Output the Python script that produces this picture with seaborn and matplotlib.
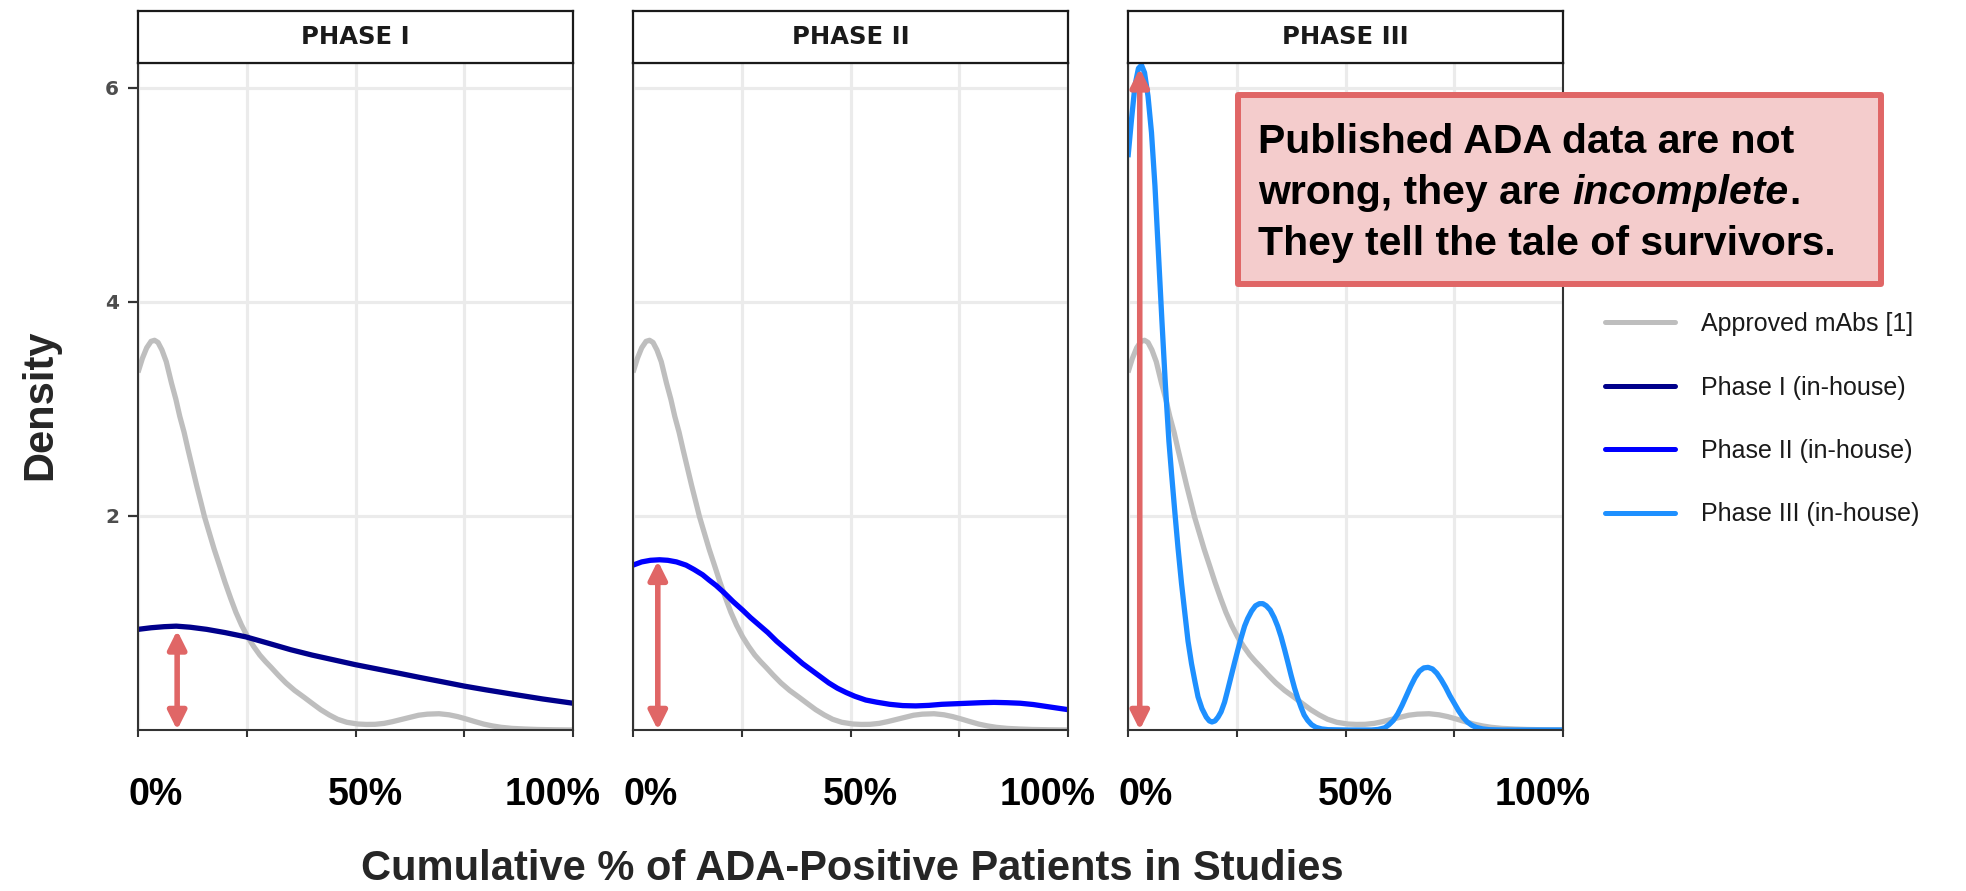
import numpy as np
import pandas as pd
import matplotlib
matplotlib.use("Agg")
import matplotlib.pyplot as plt
import seaborn as sns
from matplotlib.lines import Line2D
from matplotlib.patches import Rectangle, FancyArrowPatch
from matplotlib.transforms import ScaledTranslation

# ---------------- data ----------------
approved_x = [0.000, 0.010, 0.020, 0.030, 0.038, 0.046, 0.055, 0.065, 0.077, 0.087, 0.096,
              0.106, 0.115, 0.125, 0.135, 0.145, 0.153, 0.164, 0.175, 0.188, 0.200, 0.213,
              0.225, 0.238, 0.252, 0.266, 0.280, 0.293, 0.306, 0.323, 0.340, 0.360, 0.382,
              0.400, 0.420, 0.440, 0.459, 0.480, 0.505, 0.525, 0.545, 0.566, 0.585, 0.605,
              0.627, 0.645, 0.665, 0.692, 0.715, 0.735, 0.757, 0.775, 0.795, 0.815, 0.835,
              0.860, 0.890, 0.917, 0.960, 1.000]
approved_y = [3.34, 3.47, 3.57, 3.63, 3.64, 3.62, 3.55, 3.44, 3.24, 3.09, 2.93,
              2.78, 2.62, 2.45, 2.28, 2.12, 1.99, 1.84, 1.69, 1.53, 1.38, 1.23,
              1.10, 0.98, 0.87, 0.78, 0.70, 0.64, 0.585, 0.51, 0.44, 0.37, 0.305,
              0.25, 0.19, 0.14, 0.10, 0.072, 0.056, 0.052, 0.053, 0.062, 0.078, 0.098,
              0.12, 0.138, 0.148, 0.152, 0.142, 0.125, 0.10, 0.078, 0.055, 0.038, 0.025,
              0.015, 0.009, 0.005, 0.002, 0.0]

phase1_x = [0.0, 0.03, 0.06, 0.088, 0.12, 0.158, 0.2, 0.248, 0.3, 0.351, 0.4, 0.45, 0.5,
            0.55, 0.6, 0.649, 0.7, 0.75, 0.8, 0.868, 0.93, 1.0]
phase1_y = [0.94, 0.955, 0.965, 0.97, 0.96, 0.94, 0.91, 0.87, 0.81, 0.75, 0.70, 0.655, 0.61,
            0.57, 0.53, 0.49, 0.45, 0.41, 0.375, 0.33, 0.29, 0.25]

phase2_x = [0.0, 0.02, 0.04, 0.061, 0.08, 0.1, 0.122, 0.14, 0.16, 0.175, 0.191, 0.21, 0.23,
            0.252, 0.27, 0.29, 0.31, 0.33, 0.35, 0.37, 0.39, 0.41, 0.43, 0.45, 0.47, 0.49,
            0.51, 0.535, 0.56, 0.59, 0.62, 0.65, 0.68, 0.71, 0.74, 0.77, 0.80, 0.83, 0.86,
            0.89, 0.92, 0.95, 0.975, 1.0]
phase2_y = [1.54, 1.57, 1.585, 1.59, 1.585, 1.57, 1.54, 1.50, 1.45, 1.40, 1.35, 1.28, 1.20,
            1.12, 1.05, 0.98, 0.91, 0.83, 0.76, 0.69, 0.62, 0.56, 0.50, 0.44, 0.39, 0.35,
            0.315, 0.28, 0.26, 0.24, 0.228, 0.225, 0.23, 0.24, 0.245, 0.25, 0.255, 0.258, 0.255,
            0.25, 0.238, 0.22, 0.205, 0.19]

phase3_x = [0.000, 0.008, 0.016, 0.024, 0.031, 0.038, 0.046, 0.054, 0.062, 0.070, 0.078,
            0.086, 0.094, 0.100, 0.108, 0.115, 0.123, 0.131, 0.138, 0.146, 0.154, 0.161,
            0.170, 0.180, 0.187, 0.193, 0.200, 0.207, 0.214, 0.222, 0.229, 0.237, 0.245,
            0.252, 0.260, 0.268, 0.275, 0.284, 0.293, 0.302, 0.310, 0.318, 0.327, 0.336,
            0.344, 0.352, 0.360, 0.367, 0.375, 0.383, 0.390, 0.398, 0.405, 0.413, 0.422,
            0.432, 0.445, 0.460, 0.500, 0.560, 0.575, 0.590, 0.600, 0.610, 0.620, 0.630,
            0.640, 0.650, 0.660, 0.670, 0.680, 0.690, 0.700, 0.710, 0.720, 0.730, 0.740,
            0.750, 0.760, 0.770, 0.780, 0.790, 0.800, 0.815, 0.830, 0.860, 1.000]
phase3_y = [5.35, 5.70, 6.02, 6.18, 6.21, 6.14, 5.92, 5.58, 5.08, 4.45, 3.82,
            3.22, 2.70, 2.40, 2.02, 1.70, 1.37, 1.08, 0.83, 0.62, 0.45, 0.31,
            0.20, 0.12, 0.085, 0.075, 0.085, 0.12, 0.17, 0.26, 0.37, 0.50, 0.63,
            0.74, 0.86, 0.97, 1.04, 1.11, 1.16, 1.18, 1.18, 1.16, 1.12, 1.05,
            0.97, 0.87, 0.75, 0.64, 0.51, 0.39, 0.30, 0.21, 0.14, 0.09, 0.05,
            0.025, 0.01, 0.003, 0.0, 0.0, 0.005, 0.02, 0.05, 0.09, 0.15, 0.23,
            0.32, 0.41, 0.49, 0.55, 0.58, 0.585, 0.57, 0.53, 0.47, 0.40, 0.32,
            0.25, 0.18, 0.12, 0.075, 0.045, 0.025, 0.01, 0.003, 0.0, 0.0]

panel_titles = ["PHASE I", "PHASE II", "PHASE III"]
series_labels = ["Approved mAbs [1]", "Phase I (in-house)", "Phase II (in-house)", "Phase III (in-house)"]
series_colors = ["#BEBEBE", "#00008B", "#0000FF", "#1E90FF"]

arrow_x = [0.09, 0.057, 0.027]
arrow_top = [0.93, 1.58, 6.18]

x_ticks = [0.0, 0.25, 0.5, 0.75, 1.0]
x_tick_labels = ["0%", "", "50%", "", "100%"]
y_ticks = [2, 4, 6]
y_tick_labels = ["2", "4", "6"]

x_label = "Cumulative % of ADA-Positive Patients in Studies"
y_label = "Density"
note_line1 = "Published ADA data are not"
note_line2a = "wrong, they are"
note_line2b = "incomplete"
note_line2c = "."
note_line3 = "They tell the tale of survivors."

# ---------------- style ----------------
sns.set_theme(style="white")
plt.rcParams["font.family"] = ["Liberation Sans", "DejaVu Sans"]

W, H = 1966, 891
DPI = 100
fig = plt.figure(figsize=(W / DPI, H / DPI), dpi=DPI)
fig.patch.set_facecolor("white")


def fx(px):
    return px / W


def fy(py_top):
    return 1 - py_top / H


panel_left = [138, 633, 1128]
panel_w = 435
panel_top, panel_bot = 63, 730
strip_top = 11

inhouse = [(phase1_x, phase1_y), (phase2_x, phase2_y), (phase3_x, phase3_y)]
tick_offsets_px = [18, 0, 10, 0, -20]

for i in range(3):
    ax = fig.add_axes([fx(panel_left[i]), fy(panel_bot), fx(panel_w), (panel_bot - panel_top) / H])
    df = pd.concat([
        pd.DataFrame({"x": approved_x, "density": approved_y, "series": series_labels[0]}),
        pd.DataFrame({"x": inhouse[i][0], "density": inhouse[i][1], "series": series_labels[i + 1]}),
    ], ignore_index=True)
    pal = {series_labels[0]: series_colors[0], series_labels[i + 1]: series_colors[i + 1]}
    sns.lineplot(data=df, x="x", y="density", hue="series", palette=pal, ax=ax,
                 legend=False, linewidth=3.8, estimator=None, sort=True)
    for ln in ax.get_lines():
        ln.set_solid_joinstyle("round")
        ln.set_solid_capstyle("butt")
    ax.set_xlim(0, 1)
    ax.set_ylim(0, 6.23)
    ax.set_xlabel("")
    ax.set_ylabel("")
    ax.set_xticks(x_ticks)
    ax.set_xticklabels([])
    ax.tick_params(axis="x", direction="out", length=5, width=1.5, color="#333333", bottom=True)
    # x tick labels, nudged like in the reference
    for xt, lab, dx in zip(x_ticks, x_tick_labels, tick_offsets_px):
        if lab:
            tr = ax.get_xaxis_transform() + ScaledTranslation(dx / DPI, -47 / DPI, fig.dpi_scale_trans)
            ax.text(xt, 0, lab, transform=tr, ha="center", va="top", fontsize=27,
                    fontweight="bold", color="black", clip_on=False)
    ax.set_yticks(y_ticks)
    if i == 0:
        ax.set_yticklabels(y_tick_labels, fontsize=14.5, fontweight="bold", color="#4D4D4D",
                           family=["DejaVu Sans"])
        ax.tick_params(axis="y", direction="out", length=7.5, width=1.6, color="#333333", pad=6,
                       left=True)
    else:
        ax.set_yticklabels([])
        ax.tick_params(axis="y", length=0, left=False)
    ax.grid(True, color="#EBEBEB", linewidth=2.3)
    ax.set_axisbelow(True)
    for s in ax.spines.values():
        s.set_visible(True)
        s.set_color("#333333")
        s.set_linewidth(1.5)
    ax.set_facecolor("white")

    arr = FancyArrowPatch((arrow_x[i], 0), (arrow_x[i], arrow_top[i]),
                          arrowstyle="<|-|>,head_length=11,head_width=5.5",
                          mutation_scale=1, color="#E06666", linewidth=4.0,
                          shrinkA=0, shrinkB=0, zorder=10, clip_on=False)
    ax.add_patch(arr)

    # facet strip
    sax = fig.add_axes([fx(panel_left[i]), fy(panel_top), fx(panel_w), (panel_top - strip_top) / H])
    sax.set_xticks([])
    sax.set_yticks([])
    sax.set_facecolor("white")
    for s in sax.spines.values():
        s.set_visible(True)
        s.set_color("#1A1A1A")
        s.set_linewidth(1.6)
    sax.text(0.5, 0.5, panel_titles[i], ha="center", va="center", fontsize=17.5,
             fontweight="bold", color="#1A1A1A", transform=sax.transAxes,
             family=["DejaVu Sans"])

# axis titles
fig.text(fx(852), fy(880), x_label, ha="center", va="baseline", fontsize=30, fontweight="bold")
fig.text(fx(40), fy(405), y_label, ha="center", va="center", rotation=90, fontsize=30,
         fontweight="bold")

# legend
handles = [Line2D([0], [0], color=c, lw=3.6) for c in series_colors]
fig.legend(handles, series_labels, loc="upper left", bbox_to_anchor=(fx(1605), fy(312)),
           frameon=False, fontsize=18, handlelength=2.8, handletextpad=1.04, labelspacing=1.58,
           borderpad=0, borderaxespad=0, labelcolor="#1A1A1A")

# annotation box
box = Rectangle((fx(1238), fy(284)), fx(643), (284 - 95) / H, transform=fig.transFigure,
                facecolor="#F4CCCC", edgecolor="#E06666", linewidth=4.3, joinstyle="round",
                zorder=20)
fig.add_artist(box)
tk = dict(fontsize=29.5, fontweight="bold", color="black", va="baseline", ha="left", zorder=21)
fig.text(fx(1258), fy(153), note_line1, **tk)
t2a = fig.text(fx(1258), fy(204), note_line2a, **tk)
fig.text(fx(1258), fy(255), note_line3, **tk)
fig.canvas.draw()
r = fig.canvas.get_renderer()
x_end = t2a.get_window_extent(r).x1
space_px = 0.278 * 29.5 * DPI / 72
t2b = fig.text((x_end + space_px) / W, fy(204), note_line2b, style="italic", **tk)
fig.canvas.draw()
x_end2 = t2b.get_window_extent(r).x1
fig.text((x_end2 + 1) / W, fy(204), note_line2c, **tk)

fig.savefig("out.png", dpi=DPI, facecolor="white")
